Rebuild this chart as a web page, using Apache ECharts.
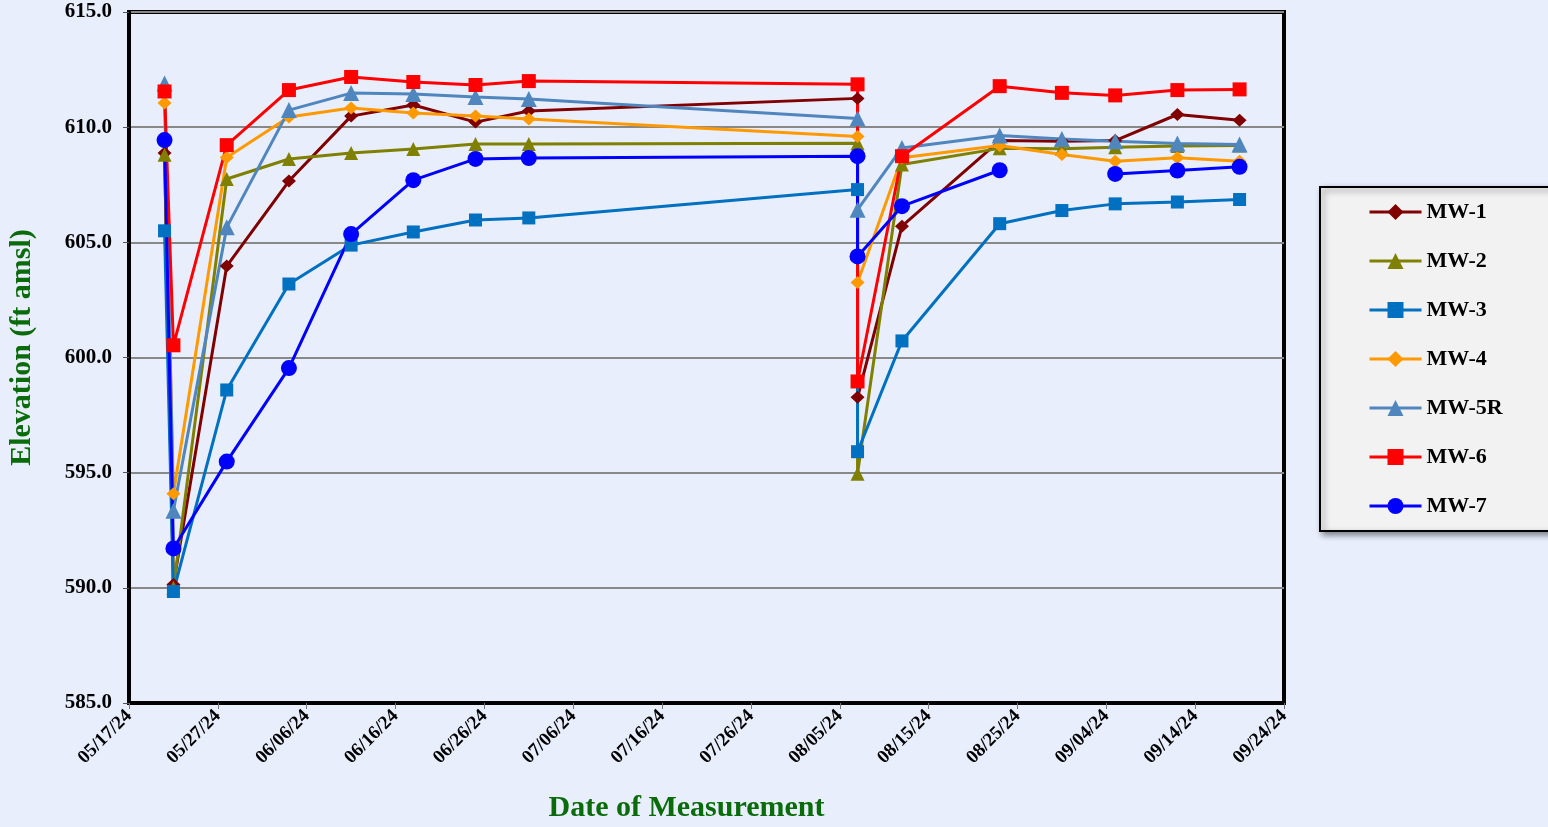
<!DOCTYPE html>
<html><head><meta charset="utf-8">
<script src="https://cdn.jsdelivr.net/npm/echarts@6/dist/echarts.min.js"></script>
<style>html,body{margin:0;padding:0;background:#E8EEFC;}#c{width:1548px;height:827px;}</style>
</head><body><div id="c"></div>
<script>
// Measurement dates (two readings on 08/07/24)
const dates = ["2024-05-21","2024-05-22","2024-05-28","2024-06-04","2024-06-11","2024-06-18","2024-06-25","2024-07-01","2024-08-07","2024-08-07","2024-08-12","2024-08-23","2024-08-30","2024-09-05","2024-09-12","2024-09-19"];
const seriesNames = ["MW-1","MW-2","MW-3","MW-4","MW-5R","MW-6","MW-7"];
const mw1  = [608.88, 590.15, 603.97, 607.66, 610.48, 610.96, 610.22, 610.70, 611.25, 598.27, 605.70, 609.42, 609.39, 609.42, 610.55, 610.30];
const mw2  = [608.80, 590.00, 607.75, 608.62, 608.88, 609.05, 609.27, 609.27, 609.30, 594.95, 608.38, 609.08, 609.06, 609.13, 609.18, 609.20];
const mw3  = [605.50, 589.84, 598.59, 603.19, 604.88, 605.45, 605.97, 606.06, 607.29, 595.91, 600.72, 605.81, 606.38, 606.67, 606.75, 606.86];
const mw4  = [611.05, 594.08, 608.68, 610.44, 610.83, 610.61, 610.48, 610.35, 609.60, 603.26, 608.67, 609.20, 608.81, 608.52, 608.67, 608.52];
const mw5r = [611.90, 593.35, 605.65, 610.74, 611.48, 611.44, 611.31, 611.22, 610.38, 606.42, 609.10, 609.64, 609.49, 609.39, 609.29, 609.25];
const mw6  = [611.55, 600.53, 609.22, 611.61, 612.18, 611.96, 611.83, 612.00, 611.86, 598.96, 608.74, 611.78, 611.49, 611.38, 611.61, 611.64];
const mw7  = [609.44, 591.71, 595.48, 599.54, 605.36, 607.70, 608.62, 608.66, 608.74, 604.39, 606.57, 608.13, null,   607.97, 608.12, 608.28];
const yTicks = [585, 590, 595, 600, 605, 610, 615];
const xStart = "2024-05-17", xEnd = "2024-09-24";

function utc(s){ const p = s.split('-'); return Date.UTC(+p[0], +p[1]-1, +p[2]); }
const BASE = utc(xStart);
const DAY = 86400000;
function dayOf(s){ return (utc(s) - BASE) / DAY; }
function pad(n){ return (n < 10 ? '0' : '') + n; }
function fmt(v){ const d = new Date(BASE + v * DAY); return pad(d.getUTCMonth()+1) + '/' + pad(d.getUTCDate()) + '/' + String(d.getUTCFullYear()).slice(2); }
function pairs(vals){ return vals.map((v, i) => [dayOf(dates[i]), v === null ? '-' : v]); }

const FONT = 'Liberation Serif';
const styles = [
  {data: mw1,  color: '#800000', symbol: 'diamond',  size: [14, 13]},
  {data: mw2,  color: '#808000', symbol: 'triangle', size: 14},
  {data: mw3,  color: '#0070C0', symbol: 'rect',     size: 13},
  {data: mw4,  color: '#FF9900', symbol: 'diamond',  size: [14, 13]},
  {data: mw5r, color: '#4F86BE', symbol: 'triangle', size: 16},
  {data: mw6,  color: '#FF0000', symbol: 'rect',     size: 14},
  {data: mw7,  color: '#0000FF', symbol: 'circle',   size: 16}
];

const chart = echarts.init(document.getElementById('c'), null, {renderer: 'canvas'});
chart.setOption({
  backgroundColor: '#E8EEFC',
  animation: false,
  grid: {left: 129, right: 264, top: 12, bottom: 124, outerBoundsMode: 'none', containLabel: false,
         show: true, borderColor: '#000', borderWidth: 4, backgroundColor: 'transparent'},
  xAxis: {
    type: 'value', min: 0, max: dayOf(xEnd), interval: 10,
    axisLine: {show: true, lineStyle: {color: '#000', width: 4}},
    axisTick: {show: true, inside: false, length: 6, lineStyle: {color: '#777', width: 1}},
    splitLine: {show: false},
    axisLabel: {rotate: 45, margin: 10, formatter: fmt, color: '#000', fontFamily: FONT, fontWeight: 'bold', fontSize: 19},
    name: 'Date of Measurement', nameLocation: 'middle', nameGap: 90,
    nameTextStyle: {color: '#0A6B0A', fontFamily: FONT, fontWeight: 'bold', fontSize: 30, padding: [0, 40, 0, 0]}
  },
  yAxis: {
    type: 'value', min: yTicks[0], max: yTicks[yTicks.length-1], interval: 5,
    axisLine: {show: true, lineStyle: {color: '#000', width: 4}},
    axisTick: {show: true, inside: false, length: 6, lineStyle: {color: '#555', width: 1}},
    splitLine: {show: true, lineStyle: {color: '#888', width: 2}},
    axisLabel: {margin: 17, formatter: v => v.toFixed(1), color: '#000', fontFamily: FONT, fontWeight: 'bold', fontSize: 21},
    name: 'Elevation (ft amsl)', nameLocation: 'middle', nameGap: 92,
    nameTextStyle: {color: '#0A6B0A', fontFamily: FONT, fontWeight: 'bold', fontSize: 30, padding: [0, 0, 0, 20]}
  },
  legend: {
    orient: 'vertical', left: 1320, top: 187,
    data: seriesNames,
    itemWidth: 52, itemHeight: 20, itemGap: 27,
    padding: [14, 70, 14, 48],
    backgroundColor: '#F2F2F2', borderColor: '#000', borderWidth: 2,
    shadowBlur: 6, shadowOffsetX: 3, shadowOffsetY: 3, shadowColor: 'rgba(0,0,0,0.45)',
    lineStyle: {width: 3},
    textStyle: {color: '#000', fontFamily: FONT, fontWeight: 'bold', fontSize: 22}
  },
  series: styles.map((s, i) => ({
    name: seriesNames[i], type: 'line', data: pairs(s.data),
    symbol: s.symbol, symbolSize: s.size, showSymbol: true, connectNulls: false,
    lineStyle: {color: s.color, width: 3},
    itemStyle: {color: s.color},
    emphasis: {disabled: true}
  }))
});
</script></body></html>
